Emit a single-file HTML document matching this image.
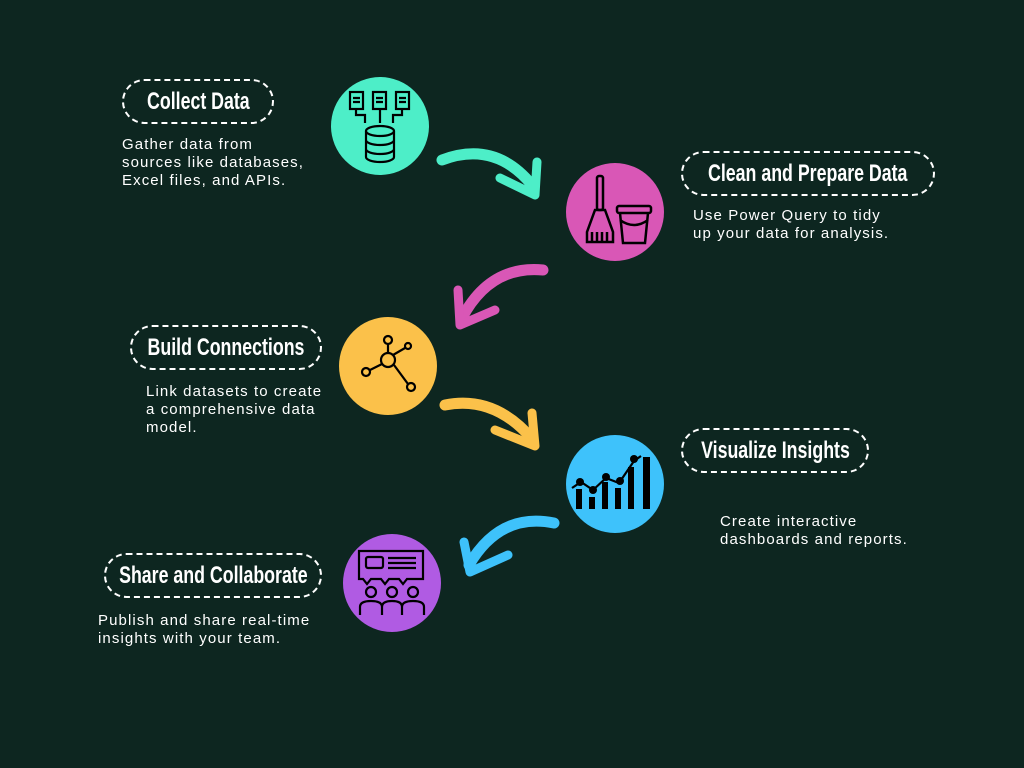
<!DOCTYPE html>
<html><head><meta charset="utf-8"><style>
html,body{margin:0;padding:0;}
body{width:1024px;height:768px;background:#0d2620;position:relative;overflow:hidden;font-family:"Liberation Sans",sans-serif;color:#fff;}
.pill{position:absolute;height:45px;border:2px dashed #fff;border-radius:25px;box-sizing:border-box;display:flex;align-items:center;justify-content:center;font-family:"Liberation Sans",sans-serif;font-weight:bold;font-size:24px;white-space:nowrap;}
.pill span{display:inline-block;transform:scaleX(0.74);white-space:nowrap;}
.t{position:absolute;font-size:15px;line-height:18px;letter-spacing:1.1px;white-space:nowrap;}
svg{position:absolute;left:0;top:0;}
</style></head><body>
<svg width="1024" height="768" viewBox="0 0 1024 768">
<circle cx="380" cy="126" r="49" fill="#4deec8"/>
<circle cx="615" cy="212" r="49" fill="#d957b6"/>
<circle cx="388" cy="366" r="49" fill="#fbc14a"/>
<circle cx="615" cy="484" r="49" fill="#3ec2fb"/>
<circle cx="392" cy="583" r="49" fill="#b05be3"/>
<g fill="none" stroke-linecap="round" stroke-linejoin="round">
<path d="M442 160 Q495 140 532 185" stroke="#4deec8" stroke-width="11"/>
<path d="M500 178 L535 195 L537 162" stroke="#4deec8" stroke-width="9"/>
<path d="M543 270 Q490 265 462 318" stroke="#d957b6" stroke-width="11"/>
<path d="M458 290 L460 325 L495 310" stroke="#d957b6" stroke-width="9"/>
<path d="M445 405 Q495 395 533 440" stroke="#fbc14a" stroke-width="11"/>
<path d="M495 430 L535 446 L532 413" stroke="#fbc14a" stroke-width="9"/>
<path d="M554 523 Q500 512 469 565" stroke="#3ec2fb" stroke-width="11"/>
<path d="M464 542 L470 572 L508 555" stroke="#3ec2fb" stroke-width="9"/>
</g>
<g stroke="#000" stroke-width="2.2" fill="none">
<rect x="350" y="92" width="13" height="17"/><rect x="373" y="92" width="13" height="17"/><rect x="396" y="92" width="13" height="17"/>
<path d="M353 98h7M353 102h7M376 98h7M376 102h7M399 98h7M399 102h7"/>
<path d="M356 109v6h9v8M380 109v14M402 109v6h-9v8"/>
<ellipse cx="380" cy="131" rx="14" ry="5"/>
<path d="M366 131v26M394 131v26M366 140a14 5 0 0 0 28 0M366 149a14 5 0 0 0 28 0M366 157a14 5 0 0 0 28 0"/>
</g>
<g stroke="#000" stroke-width="2.5" fill="none">
<rect x="597" y="176" width="6" height="34" rx="2"/>
<path d="M595 210h10l8 22v10h-26v-10z"/><path d="M592 232v10M597 232v10M602 232v10M607 232v10"/>
<rect x="617" y="206" width="34" height="7" rx="2"/>
<path d="M620 213l3 30h22l3-30M620 220q14 10 28 0"/>
</g>
<g stroke="#000" stroke-width="2.2" fill="none">
<circle cx="388" cy="360" r="7"/><circle cx="388" cy="340" r="4"/><circle cx="366" cy="372" r="4"/><circle cx="411" cy="387" r="4"/><circle cx="408" cy="346" r="3"/>
<path d="M388 344v9M370 370l12-6M408 384l-14-19M393 355l12-7"/>
</g>
<g fill="#000">
<rect x="576" y="489" width="6" height="20"/><rect x="589" y="497" width="6" height="12"/><rect x="602" y="482" width="6" height="27"/><rect x="615" y="488" width="6" height="21"/><rect x="628" y="467" width="6" height="42"/><rect x="643" y="457" width="7" height="52"/>
<g stroke="#000" stroke-width="2.2" fill="none"><path d="M572 488l9-6 12 8 13-12 13 5 15-22 7-5"/></g>
<circle cx="580" cy="482" r="4"/><circle cx="593" cy="490" r="4"/><circle cx="606" cy="477" r="4"/><circle cx="620" cy="481" r="4"/><circle cx="634" cy="459" r="4"/>
</g>
<g stroke="#000" stroke-width="2.2" fill="none">
<path d="M359 551h64v28h-16l-4 5-4-5h-10l-4 5-4-5h-10l-4 5-4-5h-4z"/>
<rect x="366" y="557" width="17" height="11" rx="2"/><path d="M388 558h28M388 563h28M388 568h28"/>
<circle cx="371" cy="592" r="5"/><circle cx="392" cy="592" r="5"/><circle cx="413" cy="592" r="5"/>
<path d="M360 615v-8q0-6 11-6t11 6v8M382 615v-8q0-6 10-6t10 6v8M402 615v-8q0-6 11-6t11 6v8"/>
</g>
</svg>
<div class="pill" style="left:122px;top:79px;width:152px;"><span>Collect Data</span></div>
<div class="t" style="left:122px;top:136px;">Gather data from<br>sources like databases,<br>Excel files, and APIs.</div>
<div class="pill" style="left:681px;top:151px;width:254px;"><span>Clean and Prepare Data</span></div>
<div class="t" style="left:693px;top:207px;">Use Power Query to tidy<br>up your data for analysis.</div>
<div class="pill" style="left:130px;top:325px;width:192px;"><span>Build Connections</span></div>
<div class="t" style="left:146px;top:383px;">Link datasets to create<br>a comprehensive data<br>model.</div>
<div class="pill" style="left:681px;top:428px;width:188px;"><span>Visualize Insights</span></div>
<div class="t" style="left:720px;top:513px;">Create interactive<br>dashboards and reports.</div>
<div class="pill" style="left:104px;top:553px;width:218px;"><span>Share and Collaborate</span></div>
<div class="t" style="left:98px;top:612px;">Publish and share real-time<br>insights with your team.</div>
</body></html>
